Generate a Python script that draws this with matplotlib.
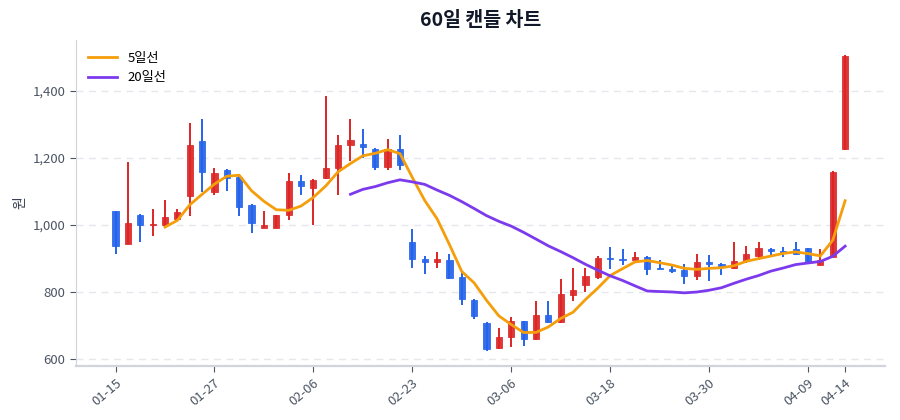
import numpy as np
import pandas as pd
import matplotlib
matplotlib.use("Agg")
import matplotlib.pyplot as plt
from matplotlib.ticker import FuncFormatter, FixedLocator

plt.rcParams['font.family'] = ['Noto Sans CJK KR', 'DejaVu Sans']

# daily OHLC values (60 sessions)
opens = [1040, 943, 1030, 998, 998, 1018, 1087, 1249, 1097, 1164,
         1142, 1060, 991, 991, 1030, 1130, 1109, 1139, 1169, 1237,
         1240, 1227, 1174, 1225, 948, 898, 888, 895, 845, 775,
         707, 631, 664, 712, 659, 730, 710, 790, 820, 845,
         901, 898, 896, 905, 871, 869, 864, 846, 890, 884,
         870, 891, 908, 928, 923, 928, 930, 880, 905, 1227]
highs = [1042, 1187, 1032, 1048, 1075, 1046, 1303, 1316, 1170, 1166,
         1145, 1062, 1040, 1030, 1154, 1150, 1137, 1384, 1267, 1316,
         1287, 1229, 1255, 1269, 986, 907, 918, 913, 860, 778,
         709, 692, 724, 714, 772, 772, 837, 870, 870, 906,
         933, 928, 918, 907, 896, 882, 882, 912, 910, 886,
         950, 938, 948, 930, 933, 948, 932, 928, 1160, 1507]
lows = [913, 942, 950, 968, 996, 1016, 1025, 1099, 1090, 1102,
        1027, 975, 990, 990, 1015, 1090, 1000, 1137, 1090, 1190,
        1200, 1165, 1164, 1164, 870, 854, 870, 839, 760, 718,
        624, 630, 636, 638, 657, 708, 708, 772, 798, 837,
        869, 880, 895, 851, 867, 857, 823, 834, 832, 851,
        869, 885, 896, 910, 905, 910, 886, 879, 903, 1222]
closes = [938, 1006, 998, 1002, 1022, 1038, 1237, 1157, 1154, 1139,
          1053, 1005, 1000, 1028, 1130, 1117, 1135, 1170, 1239, 1254,
          1232, 1172, 1225, 1180, 898, 889, 898, 841, 777, 728,
          629, 665, 712, 658, 730, 710, 792, 805, 847, 901,
          897, 895, 905, 869, 868, 862, 846, 890, 884, 877,
          891, 913, 930, 923, 916, 913, 888, 896, 1157, 1505]

tick_labels = ['01-15', '01-27', '02-06', '02-23', '03-06', '03-18', '03-30', '04-09', '04-14']

up_color = '#dc2626'
down_color = '#2563eb'

df = pd.DataFrame({'open': opens, 'high': highs, 'low': lows, 'close': closes})
df['ma5'] = df['close'].rolling(5).mean()
df['ma20'] = df['close'].rolling(20).mean()
x = np.arange(len(df))

fig = plt.figure(figsize=(9, 4.2), dpi=100)
ax = fig.add_axes([0.0844, 0.129, 0.8986, 0.776])

colors = [up_color if c >= o else down_color for o, c in zip(df['open'], df['close'])]
body_bottom = np.minimum(df['open'], df['close'])
body_height = np.maximum(np.abs(df['close'] - df['open']), 3)

ax.vlines(x, df['low'], df['high'], colors=colors, linewidth=1.4, zorder=2)
ax.bar(x, body_height, bottom=body_bottom, width=0.5, color=colors,
       edgecolor=colors, linewidth=0.6, alpha=0.92, zorder=3)

ax.plot(x, df['ma5'], color='#f59e0b', linewidth=2, label='5일선', zorder=4)
ax.plot(x, df['ma20'], color='#7c3aed', linewidth=2, label='20일선', zorder=4)

ax.set_xlim(-3.2, 62.2)
ax.set_ylim(579, 1552)

# tick every 8 sessions plus the last one
tick_pos = list(range(0, len(df) - 1, 8)) + [len(df) - 1]
ax.xaxis.set_major_locator(FixedLocator(tick_pos))
ax.set_xticklabels(tick_labels, rotation=40, ha='right', rotation_mode='anchor')
ax.yaxis.set_major_locator(FixedLocator([600, 800, 1000, 1200, 1400]))
ax.yaxis.set_major_formatter(FuncFormatter(lambda v, p: f'{int(v):,}'))

ax.grid(axis='y', linestyle=(0, (5, 4)), color='#e5e7eb', linewidth=1)
ax.set_axisbelow(True)
for side in ['top', 'right']:
    ax.spines[side].set_visible(False)
ax.spines['left'].set_color('#d1d5db')
ax.spines['bottom'].set_color('#d1d5db')
ax.spines['bottom'].set_linewidth(1.6)
ax.tick_params(axis='both', colors='#4b5563', labelsize=9.5, length=4)
ax.tick_params(axis='x', pad=4)

ax.set_ylabel('원', fontsize=10, color='#374151')
ax.set_title('60일 캔들 차트', fontsize=14, fontweight='bold', color='#111827', pad=10)
ax.legend(loc='upper left', frameon=False, fontsize=9.5, handlelength=2.2)

fig.savefig('out.png', dpi=100)
